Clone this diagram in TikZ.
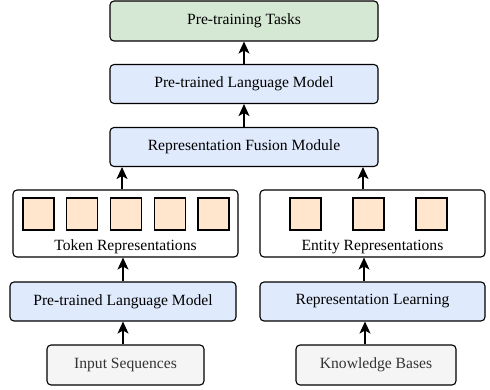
\documentclass[tikz,border=0pt]{standalone}
\usepackage{fontspec}
\setmainfont{Liberation Serif}
\usetikzlibrary{arrows.meta, positioning}
\definecolor{taskgreen}{HTML}{D5E8D4}
\definecolor{modelblue}{HTML}{DFEAFC}
\definecolor{vecorange}{HTML}{FFE6CC}
\definecolor{inputgrey}{HTML}{F5F5F5}
\tikzstyle{base} = [rectangle, rounded corners=4pt, draw=black, line width=1.1pt, text centered, font=\fontsize{15.6}{17}\selectfont]
\tikzstyle{task} = [base, minimum width=268pt, minimum height=40pt, fill=taskgreen]
\tikzstyle{model} = [base, minimum height=39pt, fill=modelblue]
\tikzstyle{source} = [base, minimum height=40pt, fill=inputgrey, text=black!80]
\tikzstyle{group} = [base, minimum width=225pt, minimum height=67pt, fill=white]
\tikzstyle{vec} = [rectangle, draw=black, line width=1.1pt, minimum width=31pt, minimum height=32pt, fill=vecorange]
\tikzstyle{arrow} = [line width=1.1pt, -{Stealth[length=12pt, width=11pt, inset=3pt]}]

\begin{document}
\begin{tikzpicture}[x=1pt, y=-1pt, node distance=63pt]
\useasboundingbox (0,0) rectangle (490,390);

% left column
\node (input) [source, minimum width=157pt] at (125.5,365) {Input Sequences};
\node (plmleft) [model, minimum width=226pt, above of=input, yshift=0.5pt, xshift=-2.5pt] {Pre-trained Language Model};
\node (tokrep) [group, above of=plmleft, yshift=15pt, xshift=2.5pt] {};
\node (toklabel) [font=\fontsize{15.6}{17}\selectfont] at (125.5,247) {Token Representations};
\foreach \i in {0,...,4}
  \node (tok\i) [vec] at (38.5+43.75*\i,214) {};

% right column
\node (kb) [source, minimum width=160pt] at (376,365) {Knowledge Bases};
\node (replearn) [model, minimum width=225pt, above of=kb, yshift=0.5pt, xshift=-3.5pt] {Representation Learning};
\node (entrep) [group, above of=replearn, yshift=15pt] {};
\node (entlabel) [font=\fontsize{15.6}{17}\selectfont] at (372.5,247) {Entity Representations};
\foreach \i in {0,...,2}
  \node (ent\i) [vec] at (305.5+63*\i,214) {};

% top stack
\node (fusion) [model, minimum width=268pt] at (244,147) {Representation Fusion Module};
\node (plmtop) [model, minimum width=268pt, above of=fusion] {Pre-trained Language Model};
\node (tasks) [task, above of=plmtop] {Pre-training Tasks};

\draw [arrow] ([xshift=-2.5pt]input.north) -- ([xshift=-2.5pt]input.north |- plmleft.south);
\draw [arrow] (plmleft.north) -- (plmleft.north |- tokrep.south);
\draw [arrow] ([xshift=-3.5pt]tokrep.north) -- ([xshift=-3.5pt]tokrep.north |- fusion.south);
\draw [arrow] ([xshift=-11pt]kb.north) -- ([xshift=-11pt]kb.north |- replearn.south);
\draw [arrow] ([xshift=-8.5pt]replearn.north) -- ([xshift=-8.5pt]replearn.north |- entrep.south);
\draw [arrow] ([xshift=-9.5pt]entrep.north) -- ([xshift=-9.5pt]entrep.north |- fusion.south);
\draw [arrow] (fusion.north) -- (plmtop.south);
\draw [arrow] (plmtop.north) -- (tasks.south);

\end{tikzpicture}
\end{document}
